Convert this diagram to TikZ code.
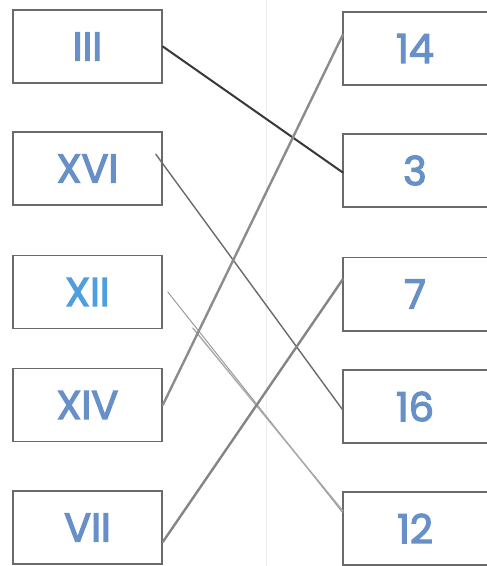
\documentclass[tikz,border=0pt]{standalone}
\usepackage{fontspec}
\setmainfont{Poppins}
\newfontfamily\numfont[FakeBold=3]{Poppins}
\usetikzlibrary{calc}
\definecolor{numblue}{HTML}{6890C8}
\definecolor{brightblue}{HTML}{4E9EE0}
\definecolor{boxgray}{HTML}{6A6A6A}
\tikzset{
  lbox/.style={draw=boxgray, line width=1.6pt, minimum width=149pt, minimum height=73pt, inner sep=0pt, text=numblue, font=\numfont\fontsize{40}{40}\selectfont},
  rtext/.style={draw=none, minimum width=144pt, minimum height=73pt, inner sep=0pt, text=numblue, font=\numfont\fontsize{40}{40}\selectfont},
  rborder/.style={draw=boxgray, line width=1.6pt},
  darkline/.style={draw=black!78, line width=2pt, line cap=round},
  midline/.style={draw=black!58, line width=1.4pt, line cap=round},
  thickline/.style={draw=black!45, line width=2.4pt, line cap=round},
  thinline/.style={draw=black!42, line width=0.9pt, line cap=round}
}
\begin{document}
\begin{tikzpicture}[x=1pt, y=-1pt]
\useasboundingbox[fill=white] (0,0) rectangle (487,566);
\draw[black!7, line width=0.8pt] (266,0) -- (266,566);
% left boxes
\node[lbox] (l1) at (87.5,46.5) {III};
\node[lbox] (l2) at (87.5,168.5) {XVI};
\node[lbox, text=brightblue] (l3) at (87.5,292) {XII};
\node[lbox] (l4) at (87.5,405) {XIV};
\node[lbox] (l5) at (87.5,527.5) {VII};
% right boxes
\node[rtext] (r1) at (415,48.5) {14};
\node[rtext] (r2) at (415,170.5) {3};
\node[rtext] (r3) at (415,294) {7};
\node[rtext] (r4) at (415,406.5) {16};
\node[rtext] (r5) at (415,528.5) {12};
\foreach \n in {r1,r2,r3,r4,r5}{
  \draw[rborder] ([xshift=10pt]\n.north east) -- (\n.north west) -- (\n.south west) -- ([xshift=10pt]\n.south east);
}
% connectors
\draw[darkline] (l1.east) -- ($(r2.west)+(0,2)$);
\draw[midline] ($(l2.north east)+(-7,23)$) -- ($(r4.west)+(0,3.5)$);
\draw[thinline] ($(l3.east)+(5,0)$) -- ($(r5.north west)+(0,21)$);
\draw[thinline, black!34, line width=1.4pt] ($(l3.east)+(30,36)$) -- ($(r5.north west)+(0,19)$);
\draw[thickline] (l4.east) -- ($(r1.north west)+(0,23)$);
\draw[thickline, black!48] ($(l5.east)+(0,14.5)$) -- ($(r3.north west)+(0,22)$);
\end{tikzpicture}
\end{document}
